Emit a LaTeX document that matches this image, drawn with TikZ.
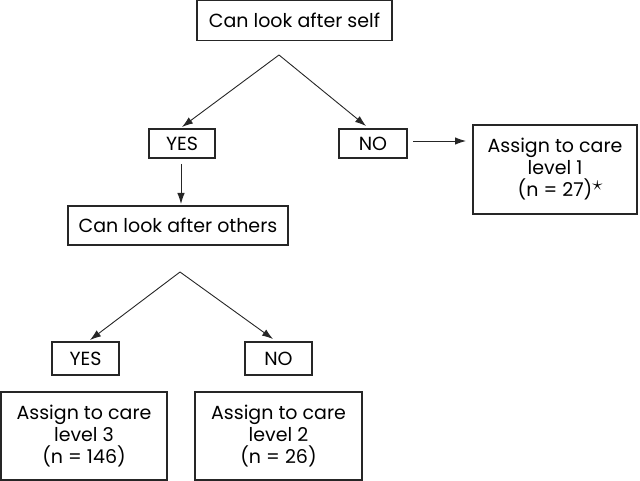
\documentclass[tikz,border=0pt]{standalone}
\usepackage{fontspec}
\setmainfont{Poppins}
\usetikzlibrary{arrows.meta}
\begin{document}
\begin{tikzpicture}[x=1pt,y=-1pt,
  box/.style={draw=black!85,line width=1.1pt,inner sep=0pt,align=center,font=\fontsize{19}{22}\selectfont},
  arr/.style={draw=black!85,line width=0.9pt,-{Latex[length=11pt,width=7.5pt]}}]
\useasboundingbox (0,0) rectangle (640,481);
\node[box,minimum width=195pt,minimum height=40pt] (top) at (294.5,20.5) {Can look after self};
\node[box,minimum width=66pt,minimum height=29pt] (yes1) at (182,143.5) {YES};
\node[box,minimum width=68pt,minimum height=29pt] (no1) at (373,143.5) {NO};
\node[box,minimum width=164pt,minimum height=89pt] (lvl1) at (555,169.5) {Assign to care\\level 1\\(n = 27)\rlap{\raisebox{6pt}{\fontsize{22}{22}\selectfont$\star$}}};
\node[box,minimum width=220pt,minimum height=39pt] (others) at (178,225.5) {Can look after others};
\node[box,minimum width=67pt,minimum height=33pt] (yes2) at (85.5,358.5) {YES};
\node[box,minimum width=67pt,minimum height=33pt] (no2) at (278.5,358.5) {NO};
\node[box,minimum width=166pt,minimum height=88pt] (lvl3) at (84,436) {Assign to care\\level 3\\(n = 146)};
\node[box,minimum width=167pt,minimum height=88pt] (lvl2) at (278.5,436) {Assign to care\\level 2\\(n = 26)};
\coordinate (apexA) at (279,55);
\coordinate (apexB) at (180,272);
\coordinate (yes1t) at (182,127);
\coordinate (no1t) at (366,126);
\coordinate (yes2t) at (90,340);
\coordinate (no2t) at (273,339);
\coordinate (vs) at (181,164);
\coordinate (ve) at (181,204);
\coordinate (hs) at (413,141);
\coordinate (he) at (466,141);
\draw[arr] (apexA) -- (yes1t);
\draw[arr] (apexA) -- (no1t);
\draw[arr] (vs) -- (ve);
\draw[arr] (hs) -- (he);
\draw[arr] (apexB) -- (yes2t);
\draw[arr] (apexB) -- (no2t);
\end{tikzpicture}
\end{document}
